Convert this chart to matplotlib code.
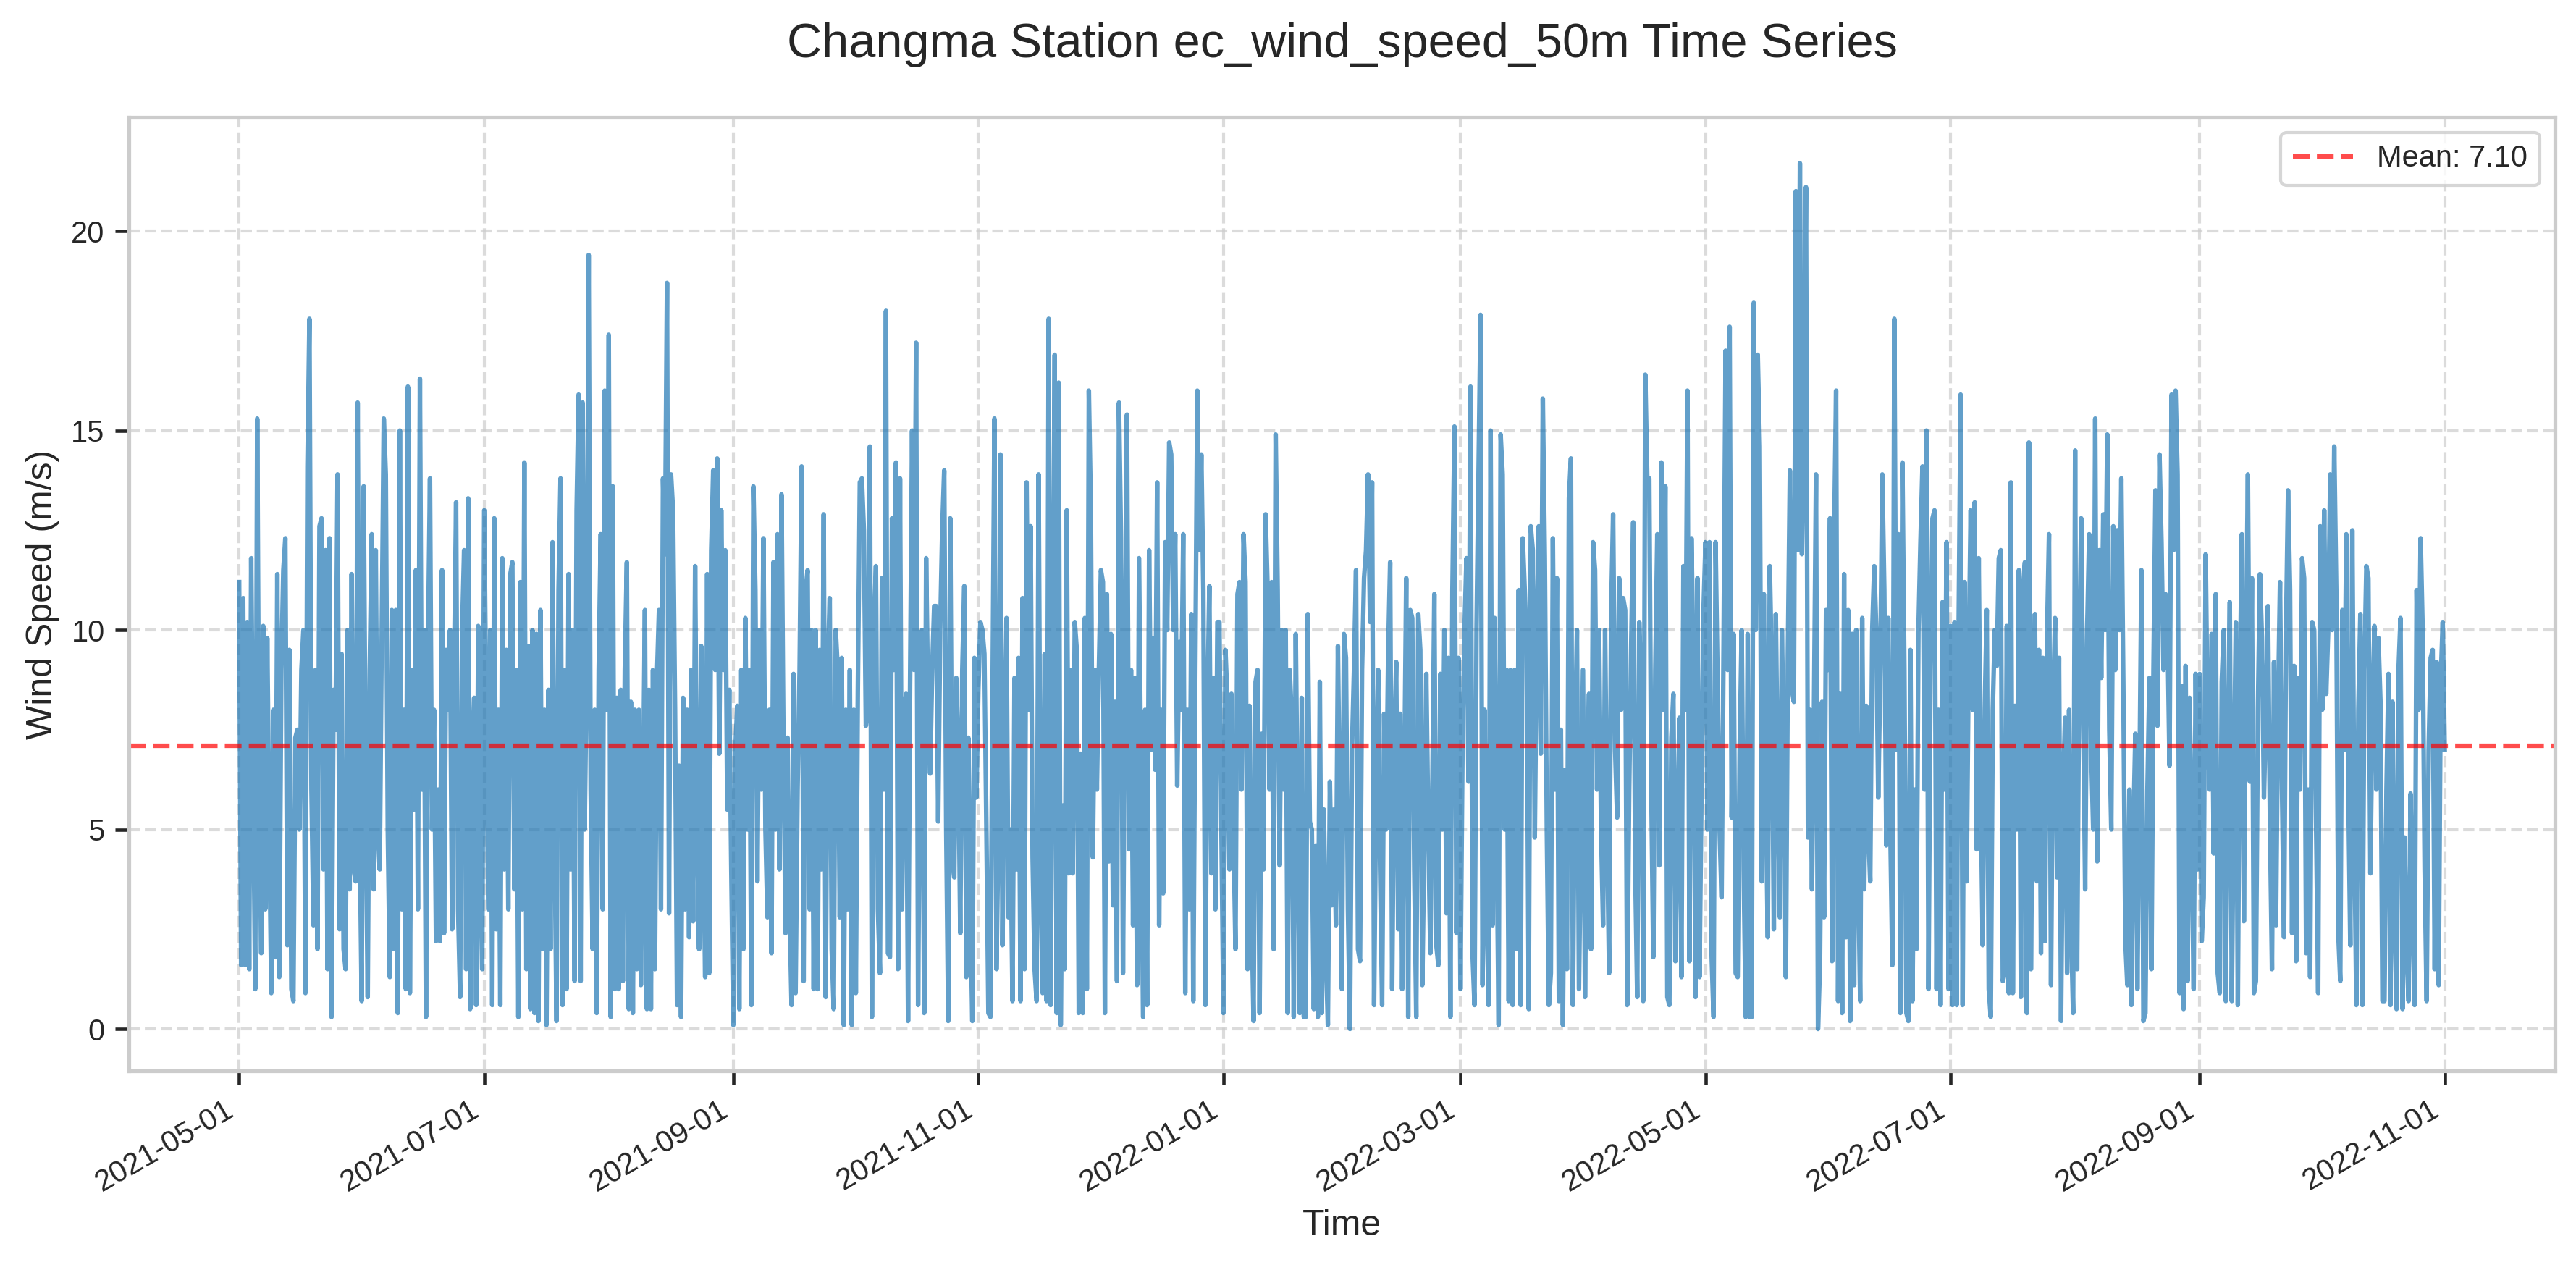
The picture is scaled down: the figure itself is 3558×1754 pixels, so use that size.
import numpy as np
import pandas as pd
import matplotlib
matplotlib.use("Agg")
import matplotlib.pyplot as plt
import matplotlib.dates as mdates

# wind speed at 50 m in 12-hour steps (m/s)
may_2021 = [11.2, 1.6, 10.8, 1.6, 10.2, 1.5, 11.8, 6.0, 1.0, 15.3,
            5.5, 1.9, 10.1, 3.0, 9.8, 5.0, 0.9, 8.0, 1.8, 11.4,
            1.3, 9.0, 11.5, 12.3, 2.1, 9.5, 1.0, 0.7, 7.3, 7.5,
            5.0, 9.0, 10.0, 0.9, 14.1, 17.8, 6.0, 2.6, 9.0, 2.0,
            12.6, 12.8, 4.0, 12.0, 1.5, 12.3, 0.3, 8.5, 7.5, 13.9,
            2.5, 9.4, 2.0, 1.5, 10.0, 3.5, 11.4, 4.0, 3.7, 15.7,
            5.0, 0.7]
jun_2021 = [13.6, 6.0, 0.8, 9.0, 12.4, 3.5, 12.0, 5.0, 4.0, 10.0,
            15.3, 13.9, 5.0, 1.3, 10.5, 2.0, 10.5, 0.4, 15.0, 3.0,
            8.0, 1.0, 16.1, 0.9, 9.0, 5.5, 11.5, 3.0, 16.3, 6.0,
            10.0, 0.3, 9.5, 13.8, 5.0, 8.0, 2.2, 6.0, 2.2, 11.5,
            2.4, 9.5, 8.0, 10.0, 2.5, 9.0, 13.2, 3.0, 0.8, 10.0,
            12.0, 1.5, 13.3, 0.5, 7.0, 8.3, 0.6, 10.1, 4.0, 1.5]
jul_2021 = [13.0, 8.0, 3.0, 10.0, 0.6, 12.8, 2.5, 8.0, 0.6, 11.8,
            4.0, 9.5, 3.0, 11.4, 11.7, 3.5, 9.0, 0.3, 11.2, 3.0,
            14.2, 1.5, 9.6, 0.5, 10.0, 0.4, 9.9, 0.2, 10.5, 2.0,
            8.0, 0.1, 8.5, 2.0, 12.2, 5.0, 0.2, 11.0, 13.8, 0.6,
            9.0, 1.0, 11.4, 4.0, 10.0, 1.2, 13.0, 15.9, 1.2, 15.7,
            5.0, 9.0, 19.4, 6.0, 2.0, 8.0, 0.4, 9.0, 12.4, 3.0,
            16.0, 8.0]
aug_2021 = [17.4, 0.3, 13.6, 1.0, 8.3, 1.0, 8.5, 1.2, 9.0, 11.7,
            0.5, 8.2, 0.4, 8.0, 1.5, 8.0, 1.1, 5.5, 10.5, 0.5,
            8.5, 0.5, 9.0, 1.5, 8.8, 10.5, 3.0, 13.8, 11.9, 18.7,
            2.9, 13.9, 13.0, 8.0, 0.6, 6.6, 0.3, 8.3, 3.0, 8.0,
            2.3, 9.0, 2.7, 11.6, 5.0, 2.0, 9.6, 5.0, 1.3, 11.4,
            1.4, 12.0, 14.0, 9.0, 14.3, 6.9, 13.0, 9.0, 12.0, 5.5,
            8.5, 4.0]
sep_2021 = [0.1, 7.0, 8.1, 0.5, 9.0, 2.0, 10.3, 5.0, 9.0, 0.6,
            13.6, 11.0, 3.7, 10.0, 6.0, 12.3, 5.0, 2.8, 8.0, 1.9,
            11.7, 5.0, 12.4, 4.0, 13.4, 7.0, 2.4, 7.3, 3.0, 0.6,
            8.9, 0.9, 6.0, 9.0, 14.1, 1.2, 11.0, 11.5, 3.0, 10.0,
            1.0, 10.0, 1.0, 9.5, 4.0, 12.9, 0.8, 9.0, 10.8, 2.0,
            0.5, 10.0, 9.0, 2.8, 9.3, 0.1, 8.0, 3.0, 9.0, 0.1]
oct_2021 = [8.0, 0.9, 8.5, 13.7, 13.8, 12.5, 7.6, 8.0, 14.6, 0.3,
            10.0, 11.6, 3.0, 1.4, 11.3, 6.0, 18.0, 1.9, 1.8, 12.8,
            9.0, 14.2, 1.5, 13.8, 3.0, 8.0, 8.4, 0.2, 8.6, 15.0,
            9.0, 17.2, 0.6, 8.0, 10.0, 0.4, 11.8, 8.0, 6.4, 9.0,
            10.6, 10.6, 5.2, 10.0, 12.5, 14.0, 5.0, 0.2, 12.8, 4.2,
            3.8, 8.8, 7.0, 2.4, 9.0, 11.1, 1.3, 7.3, 3.0, 0.2,
            9.3, 5.8]
nov_2021 = [8.5, 10.2, 10.0, 9.4, 5.0, 0.4, 0.3, 8.0, 15.3, 1.5,
            5.0, 14.4, 2.1, 7.0, 10.3, 2.8, 5.0, 0.7, 8.8, 4.0,
            9.3, 0.7, 10.8, 1.5, 13.7, 8.0, 12.6, 4.3, 1.5, 0.7,
            13.9, 3.8, 0.9, 9.4, 0.7, 17.8, 0.6, 9.0, 16.9, 0.4,
            16.2, 0.1, 5.6, 1.5, 13.0, 3.9, 9.0, 3.9, 10.2, 9.5,
            0.4, 6.9, 0.4, 10.3, 1.0, 16.0, 13.0, 4.3, 9.0, 6.0]
dec_2021 = [9.0, 11.5, 11.2, 0.4, 10.9, 4.2, 9.9, 3.1, 8.2, 1.2,
            15.7, 12.3, 1.4, 9.0, 15.4, 4.5, 9.0, 2.6, 8.8, 1.1,
            11.8, 6.0, 0.3, 8.0, 0.6, 12.0, 7.0, 9.8, 6.5, 13.7,
            2.6, 8.0, 3.4, 12.2, 10.0, 14.7, 14.4, 10.0, 12.4, 6.1,
            9.7, 8.0, 12.4, 0.9, 8.0, 3.0, 10.4, 0.7, 9.0, 16.0,
            12.0, 14.4, 11.0, 0.6, 8.0, 11.1, 3.9, 8.8, 3.0, 10.2,
            10.2, 5.0]
jan_2022 = [0.4, 9.5, 8.2, 4.0, 8.4, 5.0, 2.0, 10.9, 11.2, 6.0,
            12.4, 11.2, 1.5, 8.1, 3.0, 0.2, 8.7, 9.0, 0.4, 7.4,
            4.0, 12.9, 11.0, 6.0, 11.2, 2.0, 14.9, 11.0, 4.1, 10.0,
            6.0, 10.0, 0.4, 9.0, 7.8, 0.3, 9.9, 5.0, 0.4, 8.3,
            0.3, 0.3, 10.4, 5.2, 5.0, 0.5, 4.6, 0.3, 8.7, 0.4,
            5.5, 2.0, 0.1, 6.2, 3.1, 5.5, 2.6, 9.6, 5.0, 1.0,
            9.9, 9.3]
feb_2022 = [3.0, 0.0, 7.0, 9.0, 11.5, 2.0, 1.7, 9.0, 11.3, 12.0,
            13.9, 10.2, 13.7, 0.6, 6.0, 9.0, 4.0, 0.6, 7.9, 5.0,
            9.4, 11.7, 1.0, 7.0, 9.2, 2.5, 7.9, 1.0, 6.0, 11.3,
            0.3, 10.5, 10.3, 4.0, 0.3, 10.4, 9.5, 1.1, 4.8, 8.9,
            5.0, 1.9, 6.0, 10.9, 2.1, 1.6, 8.9, 5.0, 10.0, 2.9,
            9.3, 0.3, 11.0, 15.1, 2.4, 9.3]
mar_2022 = [1.0, 7.0, 10.0, 11.8, 6.2, 16.1, 1.9, 0.6, 10.0, 14.0,
            17.9, 1.1, 8.0, 3.1, 0.6, 15.0, 2.6, 10.3, 5.0, 0.1,
            14.9, 13.9, 5.0, 9.0, 0.7, 9.0, 0.6, 9.0, 2.0, 11.0,
            0.6, 12.3, 11.0, 9.5, 0.5, 12.6, 12.0, 4.8, 10.0, 12.6,
            6.9, 15.8, 11.8, 5.0, 0.6, 1.4, 12.3, 6.0, 11.3, 0.7,
            7.5, 0.1, 6.5, 1.5, 13.3, 14.3, 0.6, 7.0, 10.0, 1.0,
            5.0, 9.0]
apr_2022 = [0.8, 6.0, 8.4, 2.0, 12.2, 11.5, 6.0, 10.0, 5.0, 2.6,
            10.0, 5.0, 1.4, 10.4, 12.9, 7.0, 5.3, 11.3, 8.0, 10.8,
            10.5, 0.6, 6.0, 9.6, 12.7, 4.0, 0.8, 10.2, 8.5, 0.7,
            16.4, 13.8, 13.8, 6.0, 1.8, 9.0, 12.4, 4.1, 14.2, 8.0,
            13.6, 0.8, 0.6, 7.3, 8.4, 1.7, 5.0, 7.8, 1.3, 11.6,
            8.0, 16.0, 1.7, 12.3, 9.0, 0.8, 11.3, 1.3, 6.0, 10.5]
may_2022 = [12.2, 5.0, 12.2, 1.9, 0.3, 12.2, 8.7, 5.0, 3.3, 9.7,
            17.0, 9.0, 17.6, 5.3, 9.9, 1.4, 1.3, 7.0, 10.0, 4.0,
            0.3, 9.9, 0.3, 0.3, 18.2, 10.0, 16.9, 14.6, 3.7, 10.9,
            6.0, 2.3, 11.6, 9.0, 2.5, 10.4, 6.0, 2.8, 10.0, 7.0,
            1.3, 9.4, 14.0, 8.5, 8.2, 21.0, 12.0, 21.7, 11.9, 15.0,
            21.1, 4.8, 8.0, 3.5, 8.0, 13.9, 0.0, 1.7, 8.2, 2.8,
            10.5, 9.0]
jun_2022 = [12.8, 1.7, 12.2, 16.0, 0.7, 8.4, 0.4, 11.4, 2.3, 10.5,
            0.2, 9.9, 1.1, 10.0, 4.0, 0.7, 10.3, 3.5, 8.1, 5.0,
            3.7, 10.0, 11.6, 10.0, 5.8, 9.0, 13.9, 11.0, 4.6, 10.3,
            5.0, 1.6, 17.8, 7.0, 12.4, 0.4, 14.2, 9.0, 0.4, 0.2,
            9.5, 0.7, 6.0, 2.0, 10.0, 12.2, 14.1, 6.0, 15.0, 1.0,
            9.0, 12.8, 13.0, 1.0, 8.0, 0.6, 10.7, 6.0, 12.2, 1.0]
jul_2022 = [10.1, 0.6, 10.2, 0.6, 10.0, 15.9, 0.6, 11.2, 3.7, 9.2,
            13.0, 8.0, 13.2, 4.5, 11.8, 6.0, 2.1, 8.0, 10.5, 1.0,
            0.3, 8.0, 10.0, 9.1, 11.8, 12.0, 1.2, 1.4, 10.1, 0.9,
            13.7, 0.9, 8.1, 5.0, 11.5, 0.8, 11.0, 11.7, 0.4, 14.7,
            1.5, 7.0, 10.4, 3.7, 9.5, 1.9, 9.3, 2.2, 9.8, 12.4,
            1.1, 8.0, 10.3, 3.8, 9.3, 0.2, 6.0, 7.8, 1.4, 8.0,
            2.5, 0.4]
aug_2022 = [14.5, 1.5, 9.0, 12.8, 8.0, 3.5, 10.0, 12.4, 7.0, 5.0,
            15.3, 4.2, 12.0, 8.8, 12.9, 10.0, 14.9, 7.5, 5.0, 12.6,
            9.0, 12.5, 10.0, 13.8, 8.6, 2.2, 1.1, 6.0, 0.6, 5.0,
            7.4, 1.0, 6.0, 11.5, 0.2, 0.4, 6.0, 8.8, 1.5, 9.0,
            13.5, 7.6, 14.4, 12.2, 9.0, 10.9, 10.0, 6.6, 15.9, 12.0,
            16.0, 13.9, 0.9, 8.6, 0.5, 9.1, 1.2, 8.3, 5.0, 1.0,
            8.9, 4.0]
sep_2022 = [8.9, 2.2, 3.3, 11.9, 7.4, 6.0, 9.9, 4.4, 10.9, 1.4,
            0.9, 8.7, 10.0, 0.7, 7.0, 10.7, 0.7, 6.0, 10.2, 0.6,
            8.6, 12.4, 2.7, 9.0, 13.9, 6.2, 11.3, 0.9, 1.2, 8.0,
            11.4, 9.8, 5.8, 8.0, 10.6, 5.1, 1.5, 9.2, 2.6, 8.0,
            11.2, 6.0, 2.3, 10.0, 13.5, 11.0, 2.4, 9.1, 1.7, 8.8,
            6.0, 11.8, 11.3, 1.9, 6.0, 1.3, 10.2, 10.0, 5.0, 0.9]
oct_2022 = [12.6, 8.0, 13.0, 8.4, 10.0, 13.9, 10.0, 14.6, 11.0, 2.4,
            1.2, 10.5, 7.0, 12.4, 6.0, 2.1, 12.5, 5.0, 0.6, 8.0,
            10.4, 0.6, 9.0, 11.6, 11.3, 3.9, 8.0, 10.1, 6.0, 9.8,
            8.2, 0.7, 0.7, 6.0, 8.9, 0.6, 8.2, 3.0, 0.5, 9.0,
            10.3, 0.5, 4.8, 2.0, 0.7, 5.9, 3.0, 0.6, 11.0, 8.0,
            12.3, 10.0, 4.0, 0.7, 7.0, 9.3, 9.5, 1.5, 9.2, 1.1,
            8.7, 10.2]
nov_2022 = [7.0]

month_starts = ["2021-05-01", "2021-06-01", "2021-07-01", "2021-08-01",
                "2021-09-01", "2021-10-01", "2021-11-01", "2021-12-01",
                "2022-01-01", "2022-02-01", "2022-03-01", "2022-04-01",
                "2022-05-01", "2022-06-01", "2022-07-01", "2022-08-01",
                "2022-09-01", "2022-10-01", "2022-11-01"]
month_values = [may_2021, jun_2021, jul_2021, aug_2021, sep_2021, oct_2021,
                nov_2021, dec_2021, jan_2022, feb_2022, mar_2022, apr_2022,
                may_2022, jun_2022, jul_2022, aug_2022, sep_2022, oct_2022,
                nov_2022]

mean_speed = 7.10

# build the time index month by month so every block starts on its own 1st
idx = [pd.date_range(s, periods=len(v), freq="12h") for s, v in zip(month_starts, month_values)]
time = idx[0].append(idx[1:])
speed = np.concatenate([np.asarray(v, dtype=float) for v in month_values])

plt.rcParams["font.family"] = ["Liberation Sans", "DejaVu Sans"]
plt.rcParams["text.color"] = "#262626"
plt.rcParams["axes.labelcolor"] = "#262626"
plt.rcParams["xtick.color"] = "#262626"
plt.rcParams["ytick.color"] = "#262626"
plt.rcParams["axes.edgecolor"] = "#cccccc"
plt.rcParams["axes.linewidth"] = 1.25
plt.rcParams["xtick.major.size"] = 4.5
plt.rcParams["ytick.major.size"] = 4.5
plt.rcParams["xtick.major.width"] = 1.1
plt.rcParams["ytick.major.width"] = 1.1
plt.rcParams["legend.edgecolor"] = "#cccccc"

fig = plt.figure(figsize=(3558 / 300, 1754 / 300), dpi=300)
ax = fig.add_subplot(111)
fig.subplots_adjust(left=178 / 3558, right=3529 / 3558,
                    top=1 - 162 / 1754, bottom=1 - 1479 / 1754)

ax.plot(time, speed, color="#1f77b4", linewidth=1.5, alpha=0.7)
ax.axhline(mean_speed, color="red", linestyle="--", linewidth=1.5, alpha=0.7,
           label=f"Mean: {mean_speed:.2f}")

ax.set_ylim(-1.05, 22.85)
ax.xaxis.set_major_locator(mdates.MonthLocator(bymonth=[1, 3, 5, 7, 9, 11]))
ax.xaxis.set_major_formatter(mdates.DateFormatter("%Y-%m-%d"))
ax.tick_params(labelsize=10)
plt.setp(ax.get_xticklabels(), rotation=30, ha="right")

ax.grid(True, color="#cccccc", linestyle="--", linewidth=1.0, alpha=0.7)
ax.set_axisbelow(True)

ax.set_title("Changma Station ec_wind_speed_50m Time Series", fontsize=16, pad=20)
ax.set_xlabel("Time", fontsize=12)
ax.set_ylabel("Wind Speed (m/s)", fontsize=12)
ax.legend(loc="upper right", fontsize=10)

fig.savefig("out.png", dpi=300)
